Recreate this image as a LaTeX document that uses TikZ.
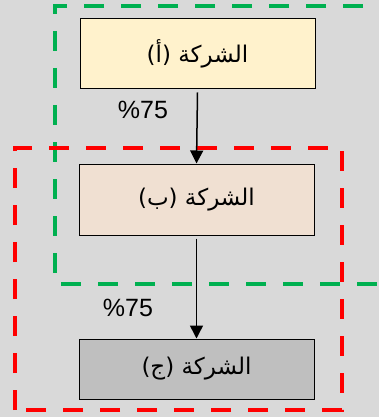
\documentclass[tikz,border=0pt]{standalone}
\usepackage{fontspec}
\setmainfont{Liberation Sans}
\newfontfamily\arabicfont[Script=Arabic]{DejaVu Sans}
\TeXXeTstate=1
\usetikzlibrary{arrows.meta}
\definecolor{bggrey}{HTML}{D9D9D9}
\definecolor{grpgreen}{HTML}{00B050}
\definecolor{grpred}{HTML}{FF0000}
\definecolor{fillA}{HTML}{FFF2CC}
\definecolor{fillB}{HTML}{F0E0D2}
\definecolor{fillC}{HTML}{BFBFBF}
\tikzset{
  company/.style={draw=black, line width=1pt, minimum width=235pt, minimum height=70pt,
    inner sep=0pt, font=\fontsize{23}{27}\selectfont\arabicfont},
  group/.style={line width=4pt, dash pattern=on 20pt off 17pt},
  share/.style={line width=1.5pt, -{Triangle[length=13pt,width=13pt]}},
  pct/.style={font=\fontsize{25}{30}\selectfont, inner sep=0pt}
}
\begin{document}
\begin{tikzpicture}[x=1pt,y=-1pt]
  \fill[bggrey] (0,0) rectangle (379,417);
  \useasboundingbox (0,0) rectangle (379,417);
  \begin{scope}
    \clip (0,0) rectangle (379,417);
    % ownership groups
    \draw[group, grpgreen] (400,6) -- (55,6) -- (55,284) -- (400,284);
    \draw[group, grpred] (15,410) -- (15,148) -- (342,148) -- (342,410) -- cycle;
  \end{scope}
  % companies
  \node[company, fill=fillA] (a) at (197.5,54) {\beginR الشركة (أ)\endR};
  \node[company, fill=fillB, minimum height=71pt] (b) at (196.5,199.5) {\beginR الشركة (ب)\endR};
  \node[company, fill=fillC, minimum height=60pt] (c) at (196.5,369) {\beginR الشركة (ج)\endR};
  % holdings
  \draw[share] ([yshift=-3pt]a.south) -- (b.north);
  \draw[share] ([yshift=-3pt]b.south) -- (c.north);
  \node[pct] (p1) at (143,110) {\%75};
  \node[pct] (p2) at (128,308) {\%75};
\end{tikzpicture}
\end{document}
